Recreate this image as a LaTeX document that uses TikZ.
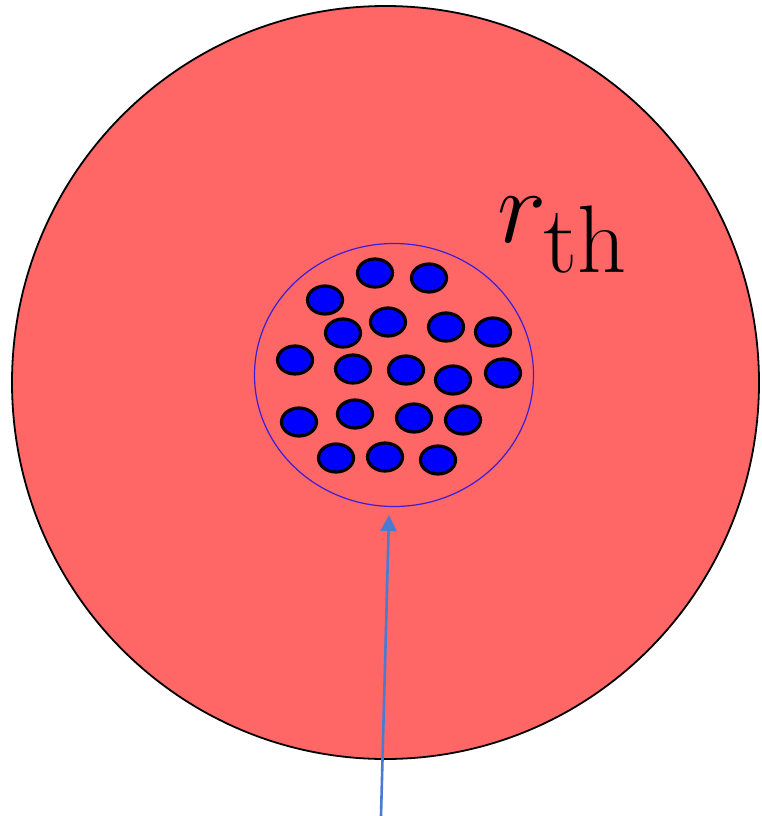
\documentclass[tikz,border=0pt]{standalone}
\usepackage{fix-cm}
\usepackage{tikz}
\usetikzlibrary{arrows.meta,shapes.geometric}
\definecolor{halofill}{HTML}{FF6666}
\definecolor{ringblue}{HTML}{3A1FD6}
\definecolor{dotblue}{HTML}{0000FF}
\definecolor{ptr}{HTML}{4A7BD3}
\tikzset{
  halo/.style={draw=black,line width=1.8pt,fill=halofill,ellipse,minimum width=747pt,minimum height=753pt,inner sep=0pt},
  ring/.style={draw=ringblue,line width=1.2pt,ellipse,minimum width=279pt,minimum height=263pt,inner sep=0pt},
  grain/.style={draw=black,line width=3.2pt,fill=dotblue,ellipse,minimum width=35pt,minimum height=28pt,inner sep=0pt},
  ar/.style={-{Triangle[length=16pt,width=16pt]},line width=2.6pt,draw=ptr},
}

\begin{document}
\begin{tikzpicture}[x=1pt,y=1pt]
\useasboundingbox (0,0) rectangle (762,-816);
\node[halo] (bulk) at (385.5,-382.5) {};
\node[ring] (core) at (394,-375) {};
% grains inside the core
\foreach \x/\y [count=\i] in {375/273,429/278,325/300,388/322,446/327,493/332,343/333,
  295/360,353/369,406/370,453/380,503/373,299/422,355/414,414/418,463/420,
  336/458,385/457,438/460}
  \node[grain] (g\i) at (\x,-\y) {};
\node[anchor=base west,inner sep=0pt,font=\fontsize{105}{120}\selectfont] (rth) at (497,-242)
  {$r_{\hbox{\fontsize{96}{110}\selectfont th}}$};
\coordinate (foot) at (381,-816);
\draw[ar] (foot) -- ([xshift=-5pt,yshift=-8pt]core.south);
\end{tikzpicture}
\end{document}
